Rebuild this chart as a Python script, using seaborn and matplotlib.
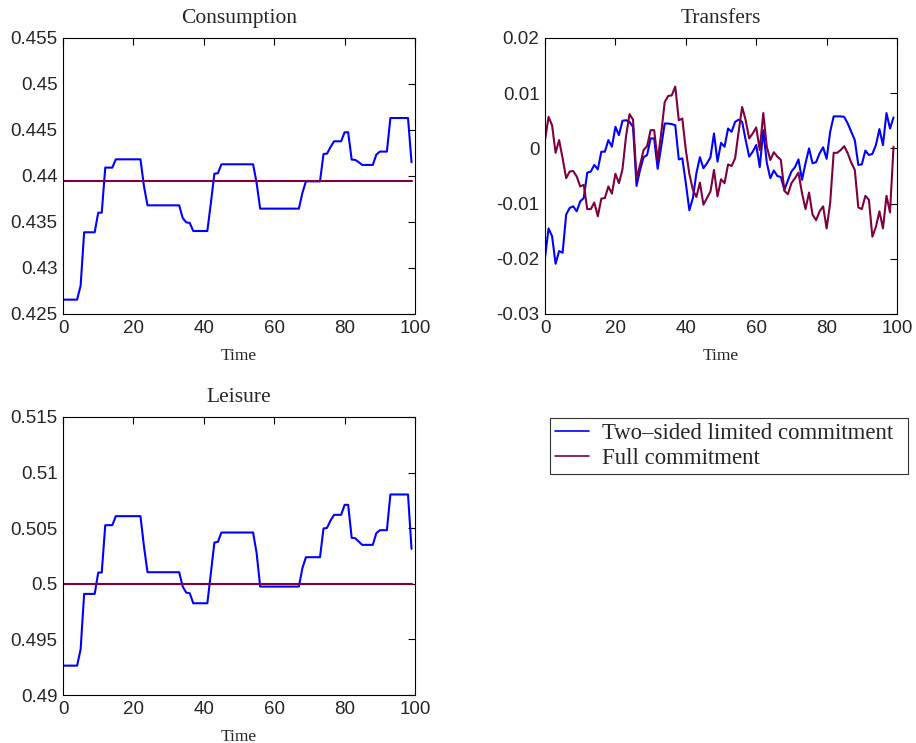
import numpy as np
import pandas as pd
import matplotlib
matplotlib.use("Agg")
import matplotlib.pyplot as plt
import seaborn as sns

# =====================================================
# DATA
# =====================================================

time = list(range(100))

cons_two_sided = [
    0.42656, 0.42656, 0.42656, 0.42656, 0.42656, 0.42808, 0.43388, 0.43388, 0.43388, 0.43388,
    0.43601, 0.43601, 0.44091, 0.44091, 0.44091, 0.44181, 0.44181, 0.44181, 0.44181, 0.44181,
    0.44181, 0.44181, 0.44181, 0.43888, 0.43681, 0.43681, 0.43681, 0.43681, 0.43681, 0.43681,
    0.43681, 0.43681, 0.43681, 0.43681, 0.43543, 0.43496, 0.43490, 0.43402, 0.43402, 0.43402,
    0.43402, 0.43402, 0.43707, 0.44025, 0.44030, 0.44127, 0.44127, 0.44127, 0.44127, 0.44127,
    0.44127, 0.44127, 0.44127, 0.44127, 0.44127, 0.43924, 0.43645, 0.43645, 0.43645, 0.43645,
    0.43645, 0.43645, 0.43645, 0.43645, 0.43645, 0.43645, 0.43645, 0.43645, 0.43815, 0.43942,
    0.43942, 0.43942, 0.43942, 0.43942, 0.44239, 0.44243, 0.44315, 0.44377, 0.44377, 0.44377,
    0.44475, 0.44475, 0.44178, 0.44175, 0.44150, 0.44120, 0.44120, 0.44120, 0.44120, 0.44232,
    0.44265, 0.44265, 0.44265, 0.44630, 0.44630, 0.44630, 0.44630, 0.44630, 0.44630, 0.44149,
]
cons_full_level = 0.43942

leis_two_sided = [
    0.49264, 0.49264, 0.49264, 0.49264, 0.49264, 0.49411, 0.49909, 0.49909, 0.49909, 0.49909,
    0.50101, 0.50101, 0.50527, 0.50527, 0.50527, 0.50608, 0.50608, 0.50608, 0.50608, 0.50608,
    0.50608, 0.50608, 0.50608, 0.50335, 0.50104, 0.50104, 0.50104, 0.50104, 0.50104, 0.50104,
    0.50104, 0.50104, 0.50104, 0.50104, 0.49975, 0.49921, 0.49915, 0.49825, 0.49825, 0.49825,
    0.49825, 0.49825, 0.50095, 0.50371, 0.50377, 0.50461, 0.50461, 0.50461, 0.50461, 0.50461,
    0.50461, 0.50461, 0.50461, 0.50461, 0.50461, 0.50275, 0.49975, 0.49975, 0.49975, 0.49975,
    0.49975, 0.49975, 0.49975, 0.49975, 0.49975, 0.49975, 0.49975, 0.49975, 0.50140, 0.50239,
    0.50239, 0.50239, 0.50239, 0.50239, 0.50497, 0.50503, 0.50569, 0.50620, 0.50620, 0.50620,
    0.50710, 0.50710, 0.50413, 0.50410, 0.50380, 0.50350, 0.50350, 0.50350, 0.50350, 0.50455,
    0.50482, 0.50482, 0.50482, 0.50803, 0.50803, 0.50803, 0.50803, 0.50803, 0.50803, 0.50314,
]
leis_full_level = 0.5000

trans_two_sided = [
    -0.0198, -0.0145, -0.0159, -0.0209, -0.0186, -0.0189, -0.0120, -0.0108, -0.0105, -0.0114,
    -0.0096, -0.0090, -0.0044, -0.0042, -0.0030, -0.0038, -0.0006, -0.0006, 0.0015, 0.0003,
    0.0039, 0.0024, 0.0050, 0.0051, 0.0048, 0.0039, -0.0068, -0.0039, -0.0016, -0.0012,
    0.0018, 0.0018, -0.0037, 0.0003, 0.0045, 0.0045, 0.0044, 0.0042, -0.0020, -0.0018,
    -0.0063, -0.0112, -0.0090, -0.0045, -0.0016, -0.0036, -0.0027, -0.0016, 0.0027, -0.0024,
    0.0010, 0.0003, 0.0036, 0.0030, 0.0048, 0.0052, 0.0048, 0.0015, -0.0015, -0.0006,
    0.0006, -0.0034, 0.0033, -0.0026, -0.0054, -0.0040, -0.0050, -0.0052, -0.0075, -0.0058,
    -0.0042, -0.0034, -0.0020, -0.0057, -0.0027, 0.0000, -0.0027, -0.0025, -0.0009, 0.0002,
    -0.0019, 0.0030, 0.0058, 0.0058, 0.0058, 0.0057, 0.0045, 0.0030, 0.0015, -0.0030,
    -0.0029, -0.0004, -0.0012, -0.0010, 0.0006, 0.0035, 0.0006, 0.0064, 0.0036, 0.0056,
]

trans_full = [
    0.0015, 0.0057, 0.0042, -0.0008, 0.0015, -0.0018, -0.0054, -0.0042, -0.0041, -0.0051,
    -0.0069, -0.0066, -0.0110, -0.0110, -0.0098, -0.0123, -0.0091, -0.0090, -0.0069, -0.0082,
    -0.0046, -0.0063, -0.0038, 0.0021, 0.0062, 0.0052, -0.0054, -0.0030, -0.0003, 0.0004,
    0.0033, 0.0033, -0.0022, 0.0027, 0.0084, 0.0095, 0.0096, 0.0112, 0.0051, 0.0054,
    -0.0003, -0.0046, -0.0075, -0.0088, -0.0062, -0.0102, -0.0090, -0.0078, -0.0039, -0.0087,
    -0.0056, -0.0063, -0.0029, -0.0032, -0.0018, 0.0030, 0.0075, 0.0051, 0.0018, 0.0027,
    0.0038, -0.0003, 0.0064, 0.0003, -0.0021, -0.0007, -0.0015, -0.0021, -0.0077, -0.0083,
    -0.0063, -0.0054, -0.0044, -0.0081, -0.0110, -0.0080, -0.0120, -0.0130, -0.0114, -0.0105,
    -0.0145, -0.0099, -0.0008, -0.0008, -0.0003, 0.0004, -0.0009, -0.0026, -0.0039, -0.0107,
    -0.0110, -0.0086, -0.0093, -0.0160, -0.0142, -0.0114, -0.0145, -0.0086, -0.0116, 0.0003,
]

x_ticks = [0, 20, 40, 60, 80, 100]

cons_ticks = [0.425, 0.43, 0.435, 0.44, 0.445, 0.45, 0.455]
cons_labels = ["0.425", "0.43", "0.435", "0.44", "0.445", "0.45", "0.455"]

trans_ticks = [-0.03, -0.02, -0.01, 0, 0.01, 0.02]
trans_labels = ["-0.03", "-0.02", "-0.01", "0", "0.01", "0.02"]

leis_ticks = [0.49, 0.495, 0.5, 0.505, 0.51, 0.515]
leis_labels = ["0.49", "0.495", "0.5", "0.505", "0.51", "0.515"]

series_names = ["Two\u2013sided limited commitment", "Full commitment"]

# =====================================================
# STYLE
# =====================================================

sns.set_style("white")
plt.rcParams["font.family"] = ["Liberation Sans", "DejaVu Sans"]

BLUE = "#0000ff"
RED = "#7f0040"
LW = 1.5
SERIF = ["Liberation Serif", "DejaVu Serif"]

fig = plt.figure(figsize=(9.16, 7.43), dpi=100)

ax_c = fig.add_axes([0.0688, 0.5774, 0.3843, 0.3715])
ax_t = fig.add_axes([0.5950, 0.5774, 0.3843, 0.3715])
ax_l = fig.add_axes([0.0688, 0.0646, 0.3843, 0.3742])


def style_axis(ax, title, yticks, ylabels, ylim):
    ax.set_xlim(0, 100)
    ax.set_ylim(*ylim)
    ax.set_xticks(x_ticks)
    ax.set_xticklabels([str(v) for v in x_ticks], fontsize=13.5)
    ax.set_yticks(yticks)
    ax.set_yticklabels(ylabels, fontsize=13.5)
    ax.tick_params(direction="in", top=True, right=True, length=5,
                   width=0.8, color="black", pad=4)
    for s in ax.spines.values():
        s.set_color("black")
        s.set_linewidth(0.8)
    ax.set_title(title, family=SERIF, fontsize=15.5, pad=11)
    ax.set_xlabel("Time", family=SERIF, fontsize=12.5, labelpad=8)
    ax.set_ylabel("")


# =====================================================
# CONSUMPTION
# =====================================================

sns.lineplot(x=time, y=cons_two_sided, color=BLUE, linewidth=LW, ax=ax_c)
sns.lineplot(x=time, y=[cons_full_level] * len(time), color=RED, linewidth=LW, ax=ax_c)
style_axis(ax_c, "Consumption", cons_ticks, cons_labels, (0.425, 0.455))

# =====================================================
# TRANSFERS
# =====================================================

sns.lineplot(x=time, y=trans_two_sided, color=BLUE, linewidth=LW, ax=ax_t,
             label=series_names[0])
sns.lineplot(x=time, y=trans_full, color=RED, linewidth=LW, ax=ax_t,
             label=series_names[1])
handles, labels = ax_t.get_legend_handles_labels()
ax_t.get_legend().remove()
style_axis(ax_t, "Transfers", trans_ticks, trans_labels, (-0.03, 0.02))

# =====================================================
# LEISURE
# =====================================================

sns.lineplot(x=time, y=leis_two_sided, color=BLUE, linewidth=LW, ax=ax_l)
sns.lineplot(x=time, y=[leis_full_level] * len(time), color=RED, linewidth=LW, ax=ax_l)
style_axis(ax_l, "Leisure", leis_ticks, leis_labels, (0.49, 0.515))

# =====================================================
# LEGEND
# =====================================================

leg = fig.legend(
    handles, labels,
    loc="upper left",
    bbox_to_anchor=(550 / 916, 1 - 472 / 743, 358 / 916, 54 / 743),
    mode="expand",
    prop={"family": SERIF, "size": 16.4},
    frameon=True,
    fancybox=False,
    shadow=False,
    handlelength=1.5,
    handletextpad=0.6,
    borderpad=0.2,
    labelspacing=0.2,
    borderaxespad=0.0,
)
leg.get_frame().set_edgecolor("black")
leg.get_frame().set_linewidth(0.8)
for line in leg.get_lines():
    line.set_linewidth(1.2)

fig.savefig("out.png", dpi=100)
